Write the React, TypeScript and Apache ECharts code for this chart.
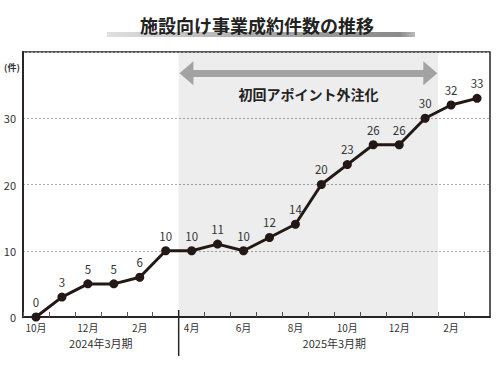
import React, { useEffect, useRef } from "react";
import * as echarts from "echarts";

const months = ["10月", "11月", "12月", "1月", "2月", "3月", "4月", "5月", "6月", "7月", "8月", "9月", "10月", "11月", "12月", "1月", "2月", "3月"];
const counts = [0, 3, 5, 5, 6, 10, 10, 11, 10, 12, 14, 20, 23, 26, 26, 30, 32, 33];
const periods = [
  { label: "2024年3月期", from: 0, to: 5 },
  { label: "2025年3月期", from: 6, to: 17 },
];
const shadeRange = [5.5, 15.5];
const arrowRange = [5.8, 15.2];
const arrowY = 36.8;
const noteY = 33.6;
const noteText = "初回アポイント外注化";
const titleText = "施設向け事業成約件数の推移";
const unitText = "(件)";

const FONT = "'Noto Sans CJK JP', 'Noto Sans', sans-serif";

export default function App() {
  const ref = useRef<HTMLDivElement>(null);
  useEffect(() => {
    if (!ref.current) return;
    const chart = echarts.init(ref.current, null, { renderer: "svg" });
    const option: any = {
      animation: false,
      textStyle: { fontFamily: FONT },
      grid: { left: 23, right: 10, top: 52, bottom: 58, show: true, borderColor: "#2a2424", borderWidth: 1.5, backgroundColor: "transparent" },
      xAxis: [
        {
          type: "category",
          data: months,
          boundaryGap: true,
          axisLine: { lineStyle: { color: "#2a2424", width: 2 } },
          axisTick: { show: true, inside: true, length: 5, interval: 0, lineStyle: { color: "#555", width: 1 } },
          axisLabel: { interval: 1, color: "#333", fontSize: 10, margin: 5, fontFamily: FONT },
          splitLine: { show: false },
        },
        { type: "value", min: -0.5, max: 17.5, show: false },
      ],
      yAxis: {
        type: "value",
        min: 0,
        max: 40,
        interval: 10,
        axisLine: { show: true, onZero: false, lineStyle: { color: "#2a2424", width: 2 } },
        axisTick: { show: false },
        axisLabel: { color: "#333", fontSize: 11, margin: 7, fontFamily: FONT, formatter: (v: number) => (v === 40 ? "" : String(v)) },
        splitLine: { show: true, lineStyle: { color: "#aaa", type: [2, 2], width: 1 } },
      },
      series: [
        {
          type: "line",
          xAxisIndex: 1,
          data: [],
          markArea: {
            silent: true,
            itemStyle: { color: "rgba(0,0,0,0.07)" },
            data: [[{ xAxis: shadeRange[0] }, { xAxis: shadeRange[1] }]],
          },
          markLine: {
            silent: true,
            symbol: ["triangle", "triangle"],
            symbolSize: [24, 14],
            lineStyle: { color: "#a3a3a3", width: 7, type: "solid" },
            itemStyle: { color: "#a3a3a3" },
            label: { show: false },
            data: [[{ coord: [arrowRange[0], arrowY] }, { coord: [arrowRange[1], arrowY] }]],
          },
          markPoint: {
            silent: true,
            symbolSize: 0,
            data: [
              {
                coord: [(shadeRange[0] + shadeRange[1]) / 2, noteY],
                label: { show: true, formatter: noteText, fontSize: 14, fontWeight: "bold", color: "#222", fontFamily: FONT },
              },
            ],
          },
        },
        {
          type: "line",
          data: counts,
          symbol: "circle",
          symbolSize: 9,
          lineStyle: { color: "#231815", width: 3 },
          itemStyle: { color: "#231815" },
          label: { show: true, position: "top", distance: 5, color: "#333", fontSize: 11.5, fontFamily: FONT },
          z: 5,
        },
      ],
    };
    chart.setOption(option);

    const px = (v: number) => chart.convertToPixel({ xAxisIndex: 1 }, v) as number;
    const divX = px(shadeRange[0]);
    const graphics: any[] = [
      {
        type: "rect",
        shape: { x: 107, y: 32, width: 308, height: 5 },
        style: {
          fill: new echarts.graphic.LinearGradient(0, 0, 1, 0, [
            { offset: 0, color: "#e0e0e0" },
            { offset: 0.5, color: "#a8a8a8" },
            { offset: 0.95, color: "#8a8a8a" },
            { offset: 1, color: "#bbbbbb" },
          ]),
        },
        z: 1,
      },
      {
        type: "text",
        x: 257,
        y: 25,
        style: { text: titleText, font: `bold 18px ${FONT}`, fill: "#222", align: "center", verticalAlign: "middle" },
        z: 2,
      },
      {
        type: "text",
        x: 12,
        y: 67,
        style: { text: unitText, font: `bold 9px ${FONT}`, fill: "#333", align: "center", verticalAlign: "middle" },
      },
      {
        type: "line",
        shape: { x1: divX, y1: 310, x2: divX, y2: 356 },
        style: { stroke: "#2a2424", lineWidth: 1.5 },
        z: 10,
      },
    ];
    periods.forEach((p) => {
      graphics.push({
        type: "text",
        x: px((p.from + p.to) / 2),
        y: 343,
        style: { text: p.label, font: `11px ${FONT}`, fill: "#333", align: "center", verticalAlign: "middle" },
      });
    });
    chart.setOption({ graphic: graphics });

    return () => chart.dispose();
  }, []);
  return <div ref={ref} style={{ position: "fixed", left: 0, top: 0, width: 500, height: 375, background: "#fff" }} />;
}
